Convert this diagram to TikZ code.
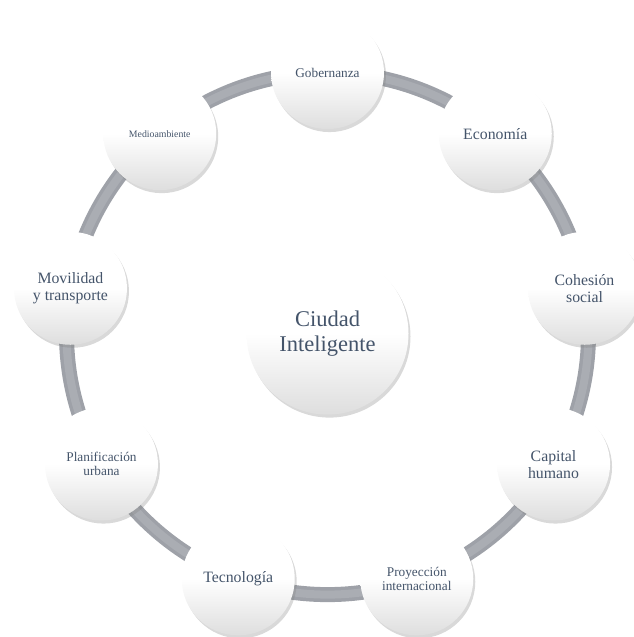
\documentclass[tikz,border=0pt]{standalone}
\usepackage{fontspec}
\setmainfont{Liberation Serif}
\usetikzlibrary{shadows}

\definecolor{textblue}{HTML}{44546A}
\definecolor{ringgray}{RGB}{158,161,168}
\definecolor{ringlight}{RGB}{170,173,179}

\begin{document}
\begin{tikzpicture}[x=1pt, y=1pt,
  ring/.style={line width=15pt, draw=ringgray},
  sheen/.style={line width=8pt, draw=ringlight},
  bubble/.style={circle, inner sep=0pt, align=center, text=textblue,
    top color=white, bottom color=black!13, middle color=white,
    drop shadow={opacity=0.3, shadow xshift=2pt, shadow yshift=-3pt}},
  hub/.style={bubble, minimum size=162pt, font=\fontsize{22.5}{24.5}\selectfont},
  topic/.style={bubble, minimum size=113pt},
  big/.style={font=\fontsize{15.8}{17}\selectfont},
  small/.style={font=\fontsize{13.3}{14}\selectfont},
  tiny/.style={font=\fontsize{9.8}{11}\selectfont}]
  \useasboundingbox (0,0) rectangle (634,637);
  \coordinate (c) at (327.5,303.4);

  % the ring behind the bubbles
  \draw[ring] (c) circle[radius=261];
  \draw[sheen] (c) circle[radius=261];

  \node[hub] (city) at (c) {Ciudad\\Inteligente};

  \begin{scope}[shift={(c)}]
    \node[topic, small] (gob)  at (90:261)   {Gobernanza};
    \node[topic, big]   (eco)  at (50:261)   {Economía};
    \node[topic, big]   (coh)  at (10:261)   {Cohesión\\social};
    \node[topic, big]   (cap)  at (-30:261)  {Capital\\humano};
    \node[topic, small] (proy) at (-70:261)  {Proyección\\internacional};
    \node[topic, big]   (tec)  at (-110:261) {Tecnología};
    \node[topic, small] (plan) at (-150:261) {Planificación\\urbana};
    \node[topic, big]   (mov)  at (170:261)  {Movilidad\\y transporte};
    \node[topic, tiny]  (med)  at (130:261)  {Medioambiente};
  \end{scope}
\end{tikzpicture}
\end{document}
